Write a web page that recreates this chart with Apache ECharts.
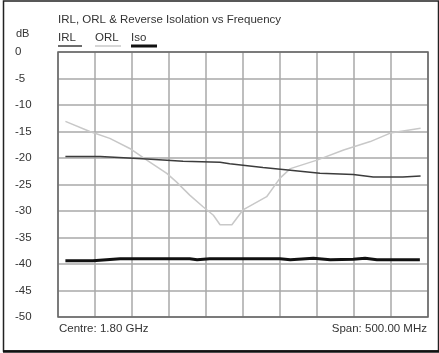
<!DOCTYPE html>
<html><head><meta charset="utf-8">
<script src="https://cdn.jsdelivr.net/npm/echarts@6/dist/echarts.min.js"></script>
<style>html,body{margin:0;padding:0;background:#fff}#c{width:439px;height:353px}</style>
</head><body><div id="c"></div>
<script>
// Frequency axis: MHz (Centre 1800, Span 500)
var yTicks = [0,-5,-10,-15,-20,-25,-30,-35,-40,-45,-50];
var irlFreq = [1560,1607,1670,1719,1769,1782,1827,1864,1904,1949,1976,2016,2040];
var irlVal  = [-19.7,-19.7,-20.2,-20.6,-20.8,-21.1,-21.8,-22.3,-22.9,-23.1,-23.6,-23.6,-23.4];
var orlFreq = [1560,1593,1620,1647,1670,1697,1710,1728,1746,1760,1769,1785,1800,1832,1850,1864,1900,1936,1972,1999,2040];
var orlVal  = [-13.1,-15.0,-16.3,-18.2,-20.4,-22.9,-24.5,-27.0,-29.2,-30.8,-32.6,-32.6,-29.8,-27.3,-23.8,-22.0,-20.4,-18.5,-16.9,-15.3,-14.4];
var isoFreq = [1560,1597,1634,1728,1738,1755,1809,1850,1864,1895,1918,1949,1965,1981,2039];
var isoVal  = [-39.4,-39.4,-39.0,-39.0,-39.2,-39.0,-39.0,-39.0,-39.2,-38.9,-39.2,-39.1,-38.9,-39.2,-39.2];

function pairs(xs, ys){ return xs.map(function(x,i){return [x, ys[i]];}); }
var font = 'Liberation Sans, Arial, sans-serif';
var chart = echarts.init(document.getElementById('c'), null, {renderer:'canvas'});
chart.setOption({
  animation:false,
  backgroundColor:'#fff',
  grid:{left:58, right:11, top:52, bottom:36},
  xAxis:{type:'value', min:1550, max:2050, interval:50,
    axisLine:{show:false}, axisTick:{show:false}, axisLabel:{show:false},
    splitLine:{show:true, lineStyle:{color:'#a8a8a8', width:1.5}}},
  yAxis:{type:'value', min:-50, max:0, interval:5,
    axisLine:{show:false}, axisTick:{show:false},
    axisLabel:{align:'left', margin:43, color:'#333', fontFamily:font, fontSize:11.5},
    splitLine:{show:true, lineStyle:{color:'#a8a8a8', width:1.5}}},
  series:[
    {type:'line', name:'ORL', data:pairs(orlFreq, orlVal), showSymbol:false, smooth:false,
      lineStyle:{color:'#c8c8c8', width:1.5}, z:3},
    {type:'line', name:'IRL', data:pairs(irlFreq, irlVal), showSymbol:false,
      lineStyle:{color:'#3c3c3c', width:1.5}, z:4},
    {type:'line', name:'Iso', data:pairs(isoFreq, isoVal), showSymbol:false,
      lineStyle:{color:'#111', width:3}, z:5}
  ],
  graphic:[
    {type:'rect', shape:{x:58, y:52, width:370, height:265}, style:{fill:'none', stroke:'#666', lineWidth:1.5}, z:10},
    {type:'rect', shape:{x:3.5, y:1, width:435, height:350}, style:{fill:'none', stroke:'#222', lineWidth:1.5}},
    {type:'line', shape:{x1:3, y1:351.5, x2:439, y2:351.5}, style:{stroke:'#111', lineWidth:2.5}},
    {type:'text', left:58, top:14, style:{text:'IRL, ORL & Reverse Isolation vs Frequency', fill:'#333', font:'11.5px '+font}},
    {type:'text', left:16, top:28, style:{text:'dB', fill:'#333', font:'11px '+font}},
    {type:'text', left:58, top:32, style:{text:'IRL', fill:'#333', font:'11.5px '+font}},
    {type:'line', shape:{x1:58, y1:46, x2:82, y2:46}, style:{stroke:'#3c3c3c', lineWidth:1.5}},
    {type:'text', left:95, top:32, style:{text:'ORL', fill:'#333', font:'11.5px '+font}},
    {type:'line', shape:{x1:95, y1:46, x2:121, y2:46}, style:{stroke:'#c8c8c8', lineWidth:1.5}},
    {type:'text', left:131, top:32, style:{text:'Iso', fill:'#333', font:'11.5px '+font}},
    {type:'line', shape:{x1:131, y1:46, x2:157, y2:46}, style:{stroke:'#111', lineWidth:3}},
    {type:'text', left:59, top:323, style:{text:'Centre: 1.80 GHz', fill:'#333', font:'11.5px '+font}},
    {type:'text', right:12, top:323, style:{text:'Span: 500.00 MHz', fill:'#333', font:'11.5px '+font}}
  ]
});
</script></body></html>
